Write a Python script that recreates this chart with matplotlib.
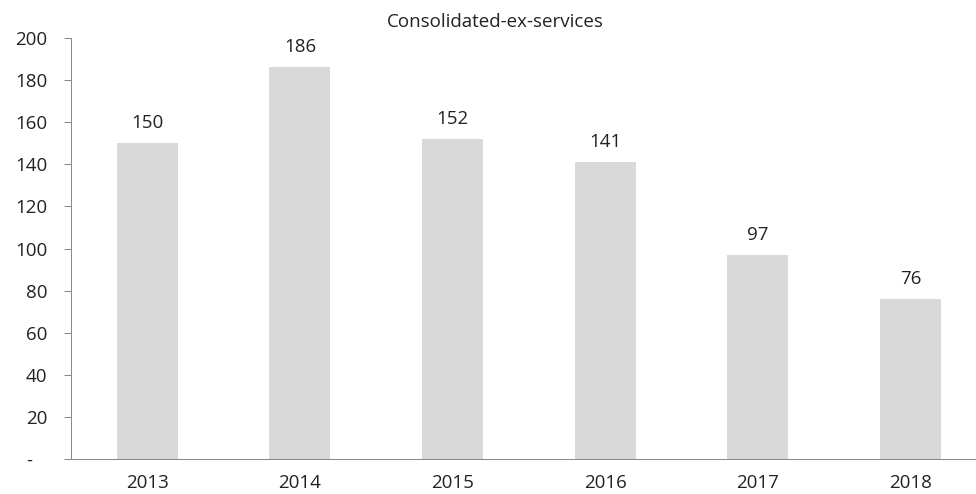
import matplotlib
matplotlib.use("Agg")
import matplotlib.pyplot as plt

years = ["2013", "2014", "2015", "2016", "2017", "2018"]
values = [150, 186, 152, 141, 97, 76]
yticks = [0, 20, 40, 60, 80, 100, 120, 140, 160, 180, 200]
ytick_labels = ["-   "] + [str(v) for v in yticks[1:]]

plt.rcParams['font.family'] = ['Open Sans', 'DejaVu Sans']

W, H = 976, 494
fig = plt.figure(figsize=(W/100, H/100), dpi=100)
left, right, top, bottom = 71, 976, 38, 459
ax = fig.add_axes([left/W, 1 - bottom/H, (right-left)/W, (bottom-top)/H])

FS = 13.5
TC = "#222222"
x = list(range(len(years)))
ax.bar(x, values, width=0.4, color="#d9d9d9", zorder=2)
for xi, v in zip(x, values):
    ax.annotate(str(v), (xi, v), xytext=(0, 8), textcoords="offset points",
                ha="center", va="bottom", fontsize=FS, color=TC)

ax.set_xlim(-0.5, 5.43)
ax.set_ylim(0, 200)
ax.set_xticks(x)
ax.set_xticklabels(years, fontsize=FS, color=TC)
ax.set_yticks(yticks)
ax.set_yticklabels(ytick_labels, fontsize=FS, color=TC)
ax.tick_params(axis="x", length=0, pad=11)
ax.tick_params(axis="y", length=5, width=0.72, color="#888888", pad=12, direction="out")
for t in ax.yaxis.get_ticklines():
    t.set_linestyle((0, (1, 1)))
for s in ["top", "right"]:
    ax.spines[s].set_visible(False)
for s in ["left", "bottom"]:
    ax.spines[s].set_linestyle((0, (1, 1)))
    ax.spines[s].set_color("#888888")
    ax.spines[s].set_linewidth(0.72)
    ax.spines[s].set_zorder(3)

fig.text(495/W, 1 - 22/H, "Consolidated-ex-services", ha="center", va="center",
         fontsize=FS, color=TC)

fig.savefig("out.png", dpi=100)
